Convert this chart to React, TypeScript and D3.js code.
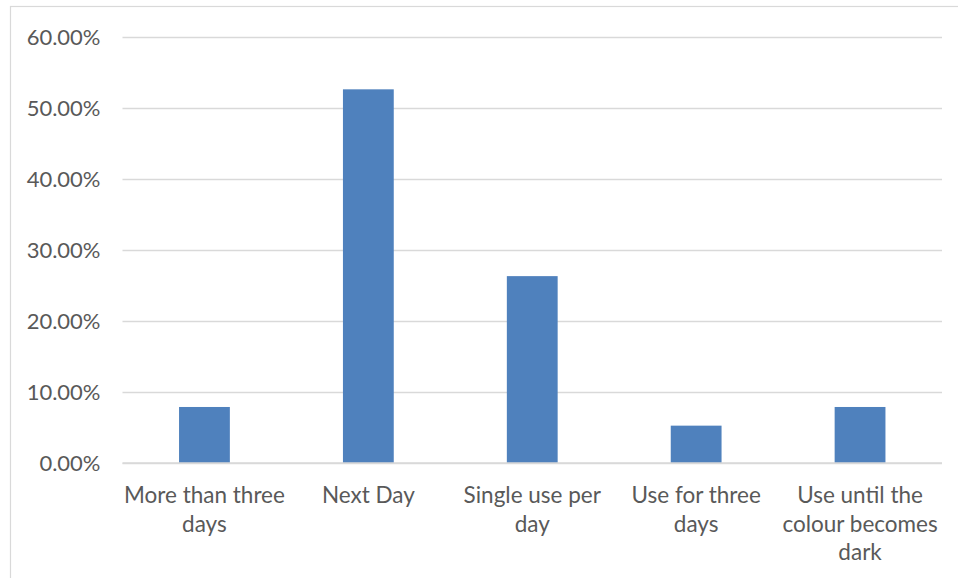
import React, { useRef, useEffect } from 'react';
import * as d3 from 'd3';

const categories = [
  'More than three days',
  'Next Day',
  'Single use per day',
  'Use for three days',
  'Use until the colour becomes dark',
];
// wrapped lines of each category label, as drawn under the axis
const categoryLines = [
  ['More than three', 'days'],
  ['Next Day'],
  ['Single use per', 'day'],
  ['Use for three', 'days'],
  ['Use until the', 'colour becomes', 'dark'],
];
const values = [0.0789, 0.5263, 0.2632, 0.0526, 0.0789];
const yTicks = [0, 0.1, 0.2, 0.3, 0.4, 0.5, 0.6];

const width = 958;
const height = 578;

const App = () => {
  const svgRef = useRef<SVGSVGElement>(null);

  useEffect(() => {
    const svg = d3.select(svgRef.current);
    svg.selectAll('*').remove();

    const margin = { top: 37, right: 16, bottom: 115, left: 122.5 };
    const innerWidth = width - margin.left - margin.right;
    const innerHeight = height - margin.top - margin.bottom;

    // outer chart border (runs off the right and bottom edges)
    svg.append('rect')
      .attr('x', 10.5)
      .attr('y', 6.5)
      .attr('width', width + 10)
      .attr('height', height + 10)
      .attr('fill', 'white')
      .attr('stroke', '#d9d9d9')
      .attr('stroke-width', 1.2);

    const xScale = d3.scaleBand()
      .domain(categories)
      .range([0, innerWidth])
      .paddingInner(0.69)
      .paddingOuter(0.345);

    const yScale = d3.scaleLinear()
      .domain([0, 0.6])
      .range([innerHeight, 0]);

    const g = svg.append('g')
      .attr('transform', `translate(${margin.left},${margin.top})`);

    // gridlines + y labels
    const yAxis = g.append('g')
      .attr('class', 'y-axis')
      .call(d3.axisLeft(yScale).tickValues(yTicks).tickSize(-innerWidth).tickPadding(22)
        .tickFormat(d => d3.format('.2f')((d as number) * 100) + '%'));
    yAxis.select('.domain').remove();
    yAxis.selectAll('line').attr('stroke', '#d9d9d9').attr('stroke-width', 1.3);
    yAxis.selectAll('text')
      .attr('fill', '#595959')
      .style('font-family', 'Lato, "Open Sans", sans-serif')
      .style('font-size', '22px');

    // bars
    g.append('g')
      .attr('fill', '#4f81bd')
      .selectAll('rect')
      .data(values)
      .join('rect')
      .attr('x', (d, i) => xScale(categories[i]))
      .attr('y', d => yScale(d))
      .attr('width', xScale.bandwidth())
      .attr('height', d => yScale(0) - yScale(d));

    // baseline
    g.append('line')
      .attr('x1', 0)
      .attr('x2', innerWidth)
      .attr('y1', yScale(0))
      .attr('y2', yScale(0))
      .attr('stroke', '#d9d9d9')
      .attr('stroke-width', 1.3);

    // category labels
    const labels = g.append('g')
      .attr('fill', '#595959')
      .style('font-family', 'Lato, "Open Sans", sans-serif')
      .style('font-size', '22.5px')
      .attr('text-anchor', 'middle');

    categories.forEach((c, i) => {
      const t = labels.append('text')
        .attr('x', xScale(c) + xScale.bandwidth() / 2)
        .attr('y', innerHeight + 40);
      categoryLines[i].forEach((line, j) => {
        t.append('tspan')
          .attr('x', xScale(c) + xScale.bandwidth() / 2)
          .attr('dy', j === 0 ? 0 : 28.5)
          .text(line);
      });
    });
  }, []);

  return (
    <svg ref={svgRef} width={width} height={height}
      style={{ position: 'absolute', left: 0, top: 0, background: 'white' }} />
  );
};

export default App;
